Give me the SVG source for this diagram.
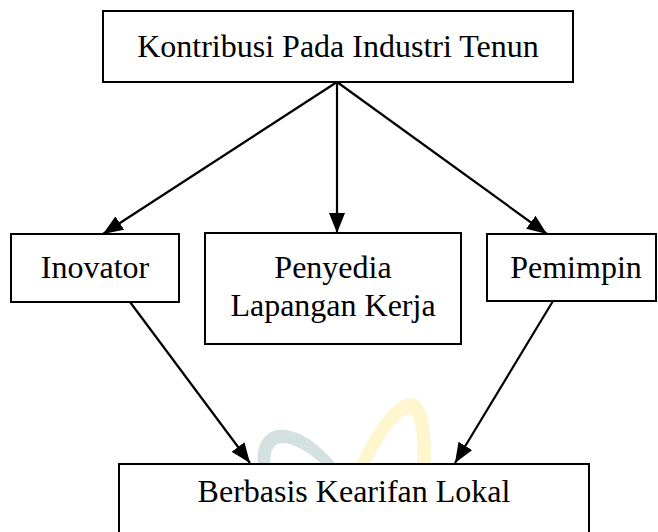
<svg xmlns="http://www.w3.org/2000/svg" width="658" height="532" viewBox="0 0 658 532">
<style>
.box{fill:#fff;stroke:#000;stroke-width:2}
.t{font-family:"Liberation Serif","Times New Roman",serif;font-size:32px;fill:#000;text-anchor:middle}
.c{stroke:#000;stroke-width:2.2;fill:none}
</style>
<defs>
<marker id="a" viewBox="0 0 20 16" refX="20" refY="8" markerWidth="20" markerHeight="16" orient="auto" markerUnits="userSpaceOnUse">
<path d="M0,0 L20,8 L0,16 z" fill="#000"/>
</marker>
</defs>
<rect width="658" height="532" fill="#fff"/>
<g id="watermark">
<path d="M258,464 C256,440 268,428 285,430 C305,432 322,448 336,464 L322,464 C308,452 295,444 284,443 C274,442 269,452 271,464 Z" fill="#d5e0e0"/>
<path d="M356,464 C372,430 392,400 410,398 C428,396 432,430 431,464 L417,464 C418,440 416,414 409,414 C398,416 382,440 370,464 Z" fill="#fdf6cf"/>
</g>
<g id="connectors">
<line class="c" x1="337" y1="82" x2="103" y2="234" marker-end="url(#a)"/>
<line class="c" x1="337" y1="82" x2="337" y2="233" marker-end="url(#a)"/>
<line class="c" x1="337" y1="82" x2="547" y2="234" marker-end="url(#a)"/>
<line class="c" x1="130" y1="302" x2="250" y2="463" marker-end="url(#a)"/>
<line class="c" x1="553" y1="301" x2="455" y2="463" marker-end="url(#a)"/>
</g>
<g id="n-top">
<rect class="box" x="103" y="11" width="470" height="71"/>
<text class="t" x="338" y="57">Kontribusi Pada Industri Tenun</text>
</g>
<g id="n-inovator">
<rect class="box" x="11" y="234" width="168" height="68"/>
<text class="t" x="95" y="278">Inovator</text>
</g>
<g id="n-penyedia">
<rect class="box" x="205" y="233" width="256" height="111"/>
<text class="t" x="333" y="278">Penyedia</text>
<text class="t" x="333" y="316">Lapangan Kerja</text>
</g>
<g id="n-pemimpin">
<rect class="box" x="487" y="234" width="169" height="67"/>
<text class="t" x="576" y="278">Pemimpin</text>
</g>
<g id="n-bottom">
<rect class="box" x="119" y="464" width="470" height="90"/>
<text class="t" x="354" y="502">Berbasis Kearifan Lokal</text>
</g>
</svg>
